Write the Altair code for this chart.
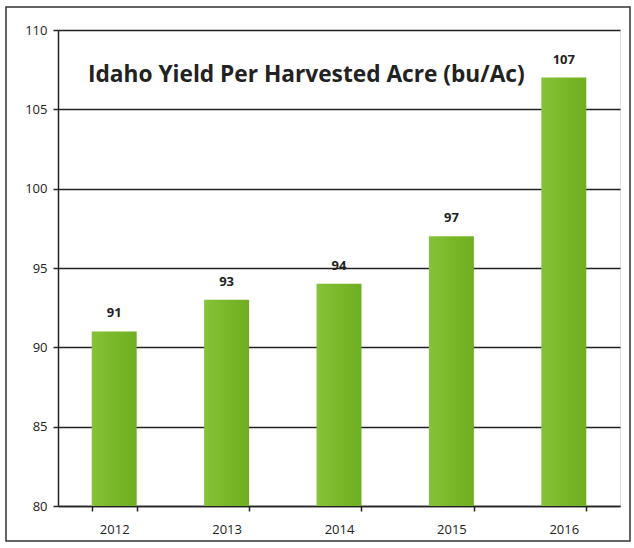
import altair as alt
import pandas as pd

years = ["2012", "2013", "2014", "2015", "2016"]
yields = [91, 93, 94, 97, 107]
title_text = "Idaho Yield Per Harvested Acre (bu/Ac)"

df = pd.DataFrame({"year": years, "yield": yields, "base": [80] * len(years)})

W, H = 562, 476
PL, PT = 58, 30

base = alt.Chart(df)

bars = base.mark_bar(
    color=alt.Gradient(
        gradient="linear", x1=0, x2=1, y1=0, y2=0,
        stops=[alt.GradientStop(color="#86c23a", offset=0),
               alt.GradientStop(color="#7ab82a", offset=0.5),
               alt.GradientStop(color="#6fae22", offset=1)]
    )
).encode(
    x=alt.X("year:N", sort=years,
            scale=alt.Scale(paddingInner=0.6, paddingOuter=0.3),
            axis=alt.Axis(title=None, labelAngle=0, labelFont="Open Sans",
                          labelFontSize=13, labelColor="#222", labelPadding=12,
                          domainColor="#222", domainWidth=1.5,
                          ticks=True, tickBand="extent", tickColor="#222",
                          tickSize=5, tickWidth=1.5)),
    y=alt.Y("yield:Q", scale=alt.Scale(domain=[80, 110], nice=False, zero=False),
            axis=alt.Axis(title=None, values=[80, 85, 90, 95, 100, 105, 110],
                          labelFont="Open Sans", labelFontSize=13, labelColor="#222",
                          labelPadding=6, domainColor="#222", domainWidth=1.5,
                          tickColor="#222", tickSize=5, tickWidth=1.5,
                          grid=True, gridColor="#222", gridWidth=1.5)),
    y2="base:Q",
)

labels = base.mark_text(
    dy=-18, font="Open Sans", fontSize=13, fontWeight="bold", color="#222"
).encode(
    x=alt.X("year:N", sort=years),
    y="yield:Q",
    text="yield:Q",
)

frame = alt.Chart(pd.DataFrame({"a": [0]})).mark_rect(
    fill=None, stroke="#333", strokeWidth=1.5
).encode(
    x=alt.value(6 - PL), x2=alt.value(630 - PL),
    y=alt.value(7 - PT), y2=alt.value(541 - PT),
)

chart = alt.layer(bars, labels, frame).properties(
    width=W, height=H,
    title=alt.TitleParams(
        title_text, anchor="start", frame="group", dx=30, offset=-80,
        font="Open Sans", fontSize=22.7, fontWeight="bold", color="#222"
    ),
    autosize=alt.AutoSizeParams(type="none"),
    padding={"left": PL, "top": PT, "right": 634 - PL - W, "bottom": 548 - PT - H},
).configure_view(stroke=None).configure(background="white")

chart.save("out.html", embed_options={"renderer": "svg", "actions": False})
